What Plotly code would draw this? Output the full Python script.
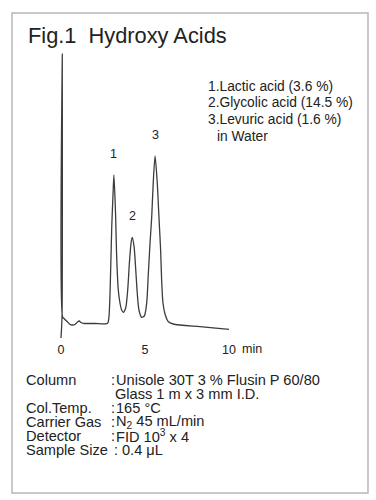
import plotly.graph_objects as go

# ---- data ----
time_min = [0.00, 0.06, 0.077, 0.095, 0.18, 0.36, 0.54, 0.65, 0.83, 0.98, 1.09, 1.19, 1.31,
            2.02, 2.72, 2.80, 2.86, 2.92, 3.02, 3.10, 3.15, 3.25, 3.31, 3.41, 3.51, 3.61,
            3.71, 3.85, 3.97, 4.07, 4.17, 4.24, 4.35, 4.45, 4.54, 4.64, 4.80, 4.96, 5.10,
            5.20, 5.30, 5.40, 5.49, 5.60, 5.73, 5.83, 5.93, 5.99, 6.07, 6.19, 6.39, 6.68,
            8.27, 10.0]
signal = [-14.5, 6.5, 269.5, 6.5, 5.0, 2.0, -1.0, -1.5, -1.0, 1.5, 2.5, 1.0, 0.2,
          0.0, -0.2, 1.0, 7.5, 30.5, 96.5, 130.5, 148.5, 108.5, 68.5, 33.5, 20.5, 13.5,
          11.2, 15.5, 33.5, 60.5, 80.5, 86.2, 76.8, 53.5, 30.2, 13.5, 6.2, 7.5, 20.5,
          50.2, 80.5, 106.8, 140.5, 167.5, 140.5, 106.8, 73.5, 43.5, 20.5, 9.5, 1.8, -0.5,
          -3.2, -5.8]

peak_ids = ["1", "2", "3"]
peak_times = [3.15, 4.24, 5.60]
peak_heights = [148.5, 86.2, 167.5]

tick_vals = [0, 5, 10]
tick_text = ["0", "5", "10"]

title_text = "Fig.1  Hydroxy Acids"
legend_lines = ["1.Lactic acid (3.6 %)", "2.Glycolic acid (14.5 %)",
                "3.Levuric acid (1.6 %)", "in Water"]

cond_labels = ["Column", "", "Col.Temp.", "Carrier Gas", "Detector", "Sample Size"]
cond_values = ["Unisole 30T 3 % Flusin P 60/80", "Glass 1 m x 3 mm I.D.", "165 °C",
               "N<sub>2</sub> 45 mL/min", "FID 10<sup>3</sup> x 4", "0.4 μL"]

W, H = 376, 500
FONT = "Liberation Sans, Arial, sans-serif"
TXT = "#222222"


def px(x):
    return x / W


def py(y):
    return 1 - y / H


fig = go.Figure()
fig.add_trace(go.Scatter(x=time_min, y=signal, mode="lines",
                         line=dict(color="#3c3c3c", width=1.3, shape="spline", smoothing=0.7),
                         hoverinfo="skip", showlegend=False))

ann = []
# peak numbers
for pid, pt, ph in zip(peak_ids, peak_times, peak_heights):
    ann.append(dict(x=pt, y=ph, xref="x", yref="y", text=pid, showarrow=False,
                    yshift=21, yanchor="middle", font=dict(size=12.5, color=TXT, family=FONT)))
# "min" unit after the 10 tick
ann.append(dict(x=10, y=py(349), xref="x", yref="paper", text="min", showarrow=False,
                xanchor="left", yanchor="middle", xshift=11,
                font=dict(size=12.5, color=TXT, family=FONT)))

# title
ann.append(dict(x=px(26), y=py(35), xref="paper", yref="paper", text=title_text,
                showarrow=False, xanchor="left", yanchor="middle",
                font=dict(size=21.8, color=TXT, family=FONT)))
# legend block
leg_y = [87, 103, 119.5, 136]
leg_x = [206, 206, 206, 215]
for t, yy, xx in zip(legend_lines, leg_y, leg_x):
    ann.append(dict(x=px(xx), y=py(yy), xref="paper", yref="paper", text=t,
                    showarrow=False, xanchor="left", yanchor="middle",
                    font=dict(size=13.8, color=TXT, family=FONT)))
# conditions block
cond_y = [380, 394, 408, 422, 435.5, 449.5]
colon_x = [108.5, None, 108.5, 108.5, 108.5, 111.5]
value_x = [113.5, 112.5, 113.5, 113.5, 113.5, 120]
CF = dict(size=14.6, color=TXT, family=FONT)
for lab, val, yy, cx, vx in zip(cond_labels, cond_values, cond_y, colon_x, value_x):
    if lab:
        ann.append(dict(x=px(23.5), y=py(yy), xref="paper", yref="paper", text=lab,
                        showarrow=False, xanchor="left", yanchor="middle", font=CF))
    if cx is not None:
        ann.append(dict(x=px(cx), y=py(yy), xref="paper", yref="paper", text=":",
                        showarrow=False, xanchor="left", yanchor="middle", font=CF))
    ann.append(dict(x=px(vx), y=py(yy), xref="paper", yref="paper", text=val,
                    showarrow=False, xanchor="left", yanchor="middle", font=CF))

x0_px, px_per_min = 61.0, 16.8
axis_y_px = 340.0
base_px = 323.5

fig.update_layout(
    width=W, height=H,
    margin=dict(l=0, r=0, t=0, b=0),
    paper_bgcolor="white", plot_bgcolor="white",
    showlegend=False,
    xaxis=dict(range=[-x0_px / px_per_min, (W - x0_px) / px_per_min], domain=[0, 1],
               showgrid=False, zeroline=False, showline=False, ticks="",
               tickvals=tick_vals, ticktext=tick_text,
               tickfont=dict(size=12.5, color=TXT, family=FONT), fixedrange=True),
    yaxis=dict(range=[base_px - axis_y_px, base_px], domain=[1 - axis_y_px / H, 1],
               showgrid=False, zeroline=False, showline=False, showticklabels=False,
               ticks="", fixedrange=True),
    annotations=ann,
    shapes=[dict(type="rect", xref="paper", yref="paper",
                 x0=px(12), x1=px(368), y0=py(493), y1=py(13),
                 line=dict(color="#b8b8b8", width=1.5))],
)

fig.write_html("out.html")
